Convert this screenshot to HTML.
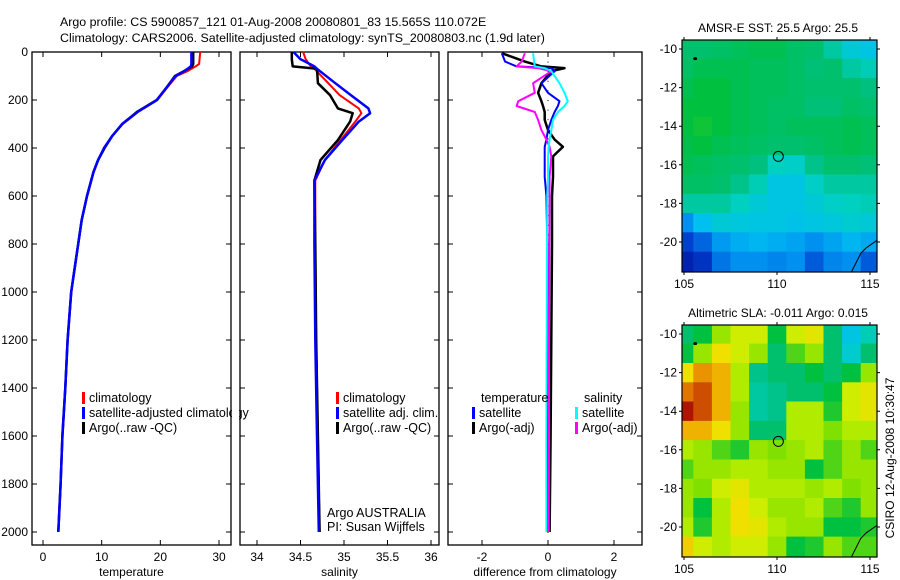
<!DOCTYPE html>
<html><head><meta charset="utf-8"><style>
html,body{margin:0;padding:0;background:#fff;}
svg{display:block;font-family:"Liberation Sans",sans-serif;}
</style></head><body>
<svg id="fig" width="900" height="580" viewBox="0 0 900 580" xmlns="http://www.w3.org/2000/svg">
<text x="60" y="26" font-size="12.4">Argo profile: CS 5900857_121 01-Aug-2008 20080801_83 15.565S 110.072E</text>
<text x="60" y="42" font-size="12.4">Climatology: CARS2006. Satellite-adjusted climatology: synTS_20080803.nc (1.9d later)</text>
<g id="plots"></g>
</svg>
<script>
// ---------- data ----------
const depthTicks=[0,200,400,600,800,1000,1200,1400,1600,1800,2000];
const tempTicks=[0,10,20,30];
const salTicks=[34,34.5,35,35.5,36];
const diffTicks=[-2,0,2];
const latTicks=[-10,-12,-14,-16,-18,-20];
const lonTicks=[105,110,115];

const tDepth=[0,50,60,80,100,150,200,250,300,350,400,450,500,600,700,800,1000,1200,1400,1600,1800,2000];
const tArgo=[25.6,25.6,25.4,24,22.5,21,19.4,16,13.5,11.8,10.5,9.4,8.6,7.5,6.6,6.0,4.8,4.2,3.8,3.3,3.0,2.6];
const tClim=[26.8,26.6,26.0,24.6,22.8,21.1,19.5,16.2,13.6,11.8,10.4,9.4,8.6,7.5,6.6,6.0,4.8,4.2,3.8,3.3,3.0,2.6];
const tSat=[25.3,25.3,25.2,24.1,22.6,21.0,19.4,16.1,13.5,11.8,10.4,9.4,8.6,7.5,6.6,6.0,4.8,4.2,3.8,3.3,3.0,2.6];

const sDepth=[0,30,60,70,130,180,235,255,290,367,450,535,800,1200,1600,2000];
const sArgo=[34.40,34.40,34.41,34.69,34.70,34.84,34.93,35.10,35.07,34.93,34.73,34.66,34.67,34.68,34.70,34.72];
const sClim=[34.53,34.56,34.62,34.66,34.82,34.95,35.17,35.20,35.13,34.96,34.78,34.67,34.67,34.68,34.70,34.72];
const sSat=[34.42,34.50,34.66,34.69,34.90,35.08,35.28,35.30,35.17,34.98,34.78,34.66,34.66,34.67,34.69,34.71];

const dDepth=[5,40,60,67,80,130,170,205,225,250,283,325,365,395,435,520,600,800,1200,1600,2000];
const dTempArgo=[-1.4,-0.7,-0.2,0.5,0.1,-0.2,-0.3,-0.2,-0.15,-0.1,-0.1,0,0.2,0.45,0.15,0.15,0.12,0.12,0.1,0.08,0.05];
const dTempSat=[-1.4,-1.3,-0.95,0.1,0.2,-0.2,0,0.35,0.3,0.2,0.1,0,-0.05,-0.1,-0.1,-0.1,-0.05,-0.02,0,0,0];
const dSalArgo=[-0.7,-0.8,-0.95,-0.3,0.1,-0.45,-0.4,-0.9,-0.95,-0.4,-0.3,-0.2,-0.05,0.05,0.1,0.05,0.05,0.04,0.03,0.03,0.02];
const dSalSat=[-0.45,-0.42,-0.4,-0.1,0.1,0.35,0.5,0.6,0.5,0.3,0.15,0.1,0.05,0.02,0,0,-0.02,-0.03,-0.04,-0.05,-0.05];

const gridLon=[105,106,107,108,109,110,111,112,113,114,115];
const gridLat=[-10,-11,-12,-13,-14,-15,-16,-17,-18,-19,-20,-21];
const sstGrid=[
[0.55,0.55,0.56,0.57,0.58,0.58,0.56,0.55,0.5,0.44,0.42],
[0.56,0.58,0.58,0.58,0.57,0.57,0.56,0.54,0.55,0.5,0.48],
[0.58,0.6,0.6,0.58,0.57,0.57,0.56,0.55,0.55,0.55,0.53],
[0.6,0.6,0.6,0.58,0.57,0.56,0.56,0.54,0.54,0.56,0.55],
[0.6,0.61,0.6,0.58,0.57,0.56,0.57,0.57,0.57,0.58,0.57],
[0.59,0.6,0.58,0.57,0.56,0.55,0.55,0.56,0.57,0.58,0.57],
[0.58,0.57,0.56,0.55,0.53,0.47,0.46,0.52,0.55,0.55,0.54],
[0.56,0.56,0.55,0.52,0.48,0.42,0.42,0.46,0.5,0.5,0.5],
[0.5,0.5,0.5,0.47,0.44,0.42,0.42,0.44,0.46,0.47,0.48],
[0.3,0.4,0.44,0.43,0.42,0.42,0.41,0.42,0.43,0.45,0.44],
[0.15,0.22,0.32,0.36,0.38,0.36,0.34,0.3,0.34,0.38,0.35],
[0.08,0.12,0.25,0.3,0.3,0.28,0.3,0.2,0.28,0.3,0.2]];
const slaGrid=[
[0.55,0.6,0.7,0.75,0.75,0.6,0.75,0.78,0.55,0.42,0.48],
[0.6,0.7,0.8,0.75,0.7,0.55,0.65,0.7,0.55,0.45,0.55],
[0.8,0.88,0.85,0.72,0.52,0.55,0.55,0.6,0.55,0.6,0.7],
[0.9,0.93,0.85,0.72,0.5,0.52,0.55,0.55,0.6,0.75,0.78],
[0.98,0.93,0.85,0.7,0.5,0.52,0.72,0.72,0.62,0.75,0.78],
[0.85,0.85,0.8,0.7,0.55,0.55,0.72,0.72,0.68,0.72,0.72],
[0.72,0.7,0.65,0.62,0.7,0.68,0.7,0.72,0.65,0.7,0.65],
[0.65,0.7,0.7,0.72,0.72,0.7,0.7,0.6,0.65,0.7,0.7],
[0.7,0.68,0.75,0.78,0.72,0.72,0.72,0.7,0.72,0.68,0.7],
[0.7,0.6,0.72,0.8,0.75,0.7,0.7,0.72,0.65,0.62,0.7],
[0.72,0.62,0.72,0.8,0.78,0.72,0.7,0.7,0.6,0.6,0.62],
[0.82,0.75,0.72,0.75,0.75,0.7,0.6,0.62,0.7,0.65,0.65]];
const argoLon=110.072, argoLat=-15.565;

// ---------- helpers ----------
const NS="http://www.w3.org/2000/svg";
const root=document.getElementById('plots');
function mk(tag,attrs,parent){const e=document.createElementNS(NS,tag);for(const k in attrs)e.setAttribute(k,attrs[k]);(parent||root).appendChild(e);return e;}
function lin(d0,d1,r0,r1){return v=>r0+(v-d0)*(r1-r0)/(d1-d0);}
const yDepth=lin(0,2000,52,532);
const pTop=52,pBot=545;

function panel(name,x0,x1,xs,ticks,fmt,label,leftLabels){
  const r=mk('rect',{x:x0,y:pTop,width:x1-x0,height:pBot-pTop,fill:'none',stroke:'#000','stroke-width':1.3});
  
  
  depthTicks.forEach(d=>{
    const y=yDepth(d);
    const t=mk('path',{d:`M${x0},${y}h5M${x1},${y}h-5`,stroke:'#000','stroke-width':1});
    
    
    if(leftLabels){const l=mk('text',{x:x0-4,y:y+4,'font-size':12,'text-anchor':'end'});l.textContent=d;
      
      }
  });
  ticks.forEach(v=>{
    const x=xs(v);
    const t=mk('path',{d:`M${x},${pTop}v5M${x},${pBot}v-5`,stroke:'#000','stroke-width':1});
    
    
    const l=mk('text',{x:x,y:pBot+16,'font-size':12,'text-anchor':'middle'});l.textContent=fmt(v);
    
    
  });
  const lb=mk('text',{x:(x0+x1)/2,y:576,'font-size':12,'text-anchor':'middle'});lb.textContent=label;
  
  
}
function line(name,depths,vals,xs,color,w){
  const pts=depths.map((d,i)=>xs(vals[i]).toFixed(1)+','+yDepth(d).toFixed(1)).join(' ');
  const p=mk('polyline',{points:pts,fill:'none',stroke:color,'stroke-width':w||2,'stroke-linejoin':'round'});
  
  
}
function legend(name,x,y,items){
  items.forEach((it,i)=>{
    const yy=y+i*15;
    const m=mk('rect',{x:x,y:yy-10,width:3,height:12,fill:it[1]});
    
    
    const t=mk('text',{x:x+7,y:yy,'font-size':12.5});t.textContent=it[0];
    
    
  });
}
function txt(name,x,y,s,attrs){const t=mk('text',Object.assign({x:x,y:y,'font-size':12.5},attrs||{}));t.textContent=s;
  
  return t;}

// ---------- temperature ----------
const xT=lin(0,30,43,219);
panel('temperature-panel',32,231,xT,tempTicks,v=>v,'temperature',true);
line('temp-climatology',tDepth,tClim,xT,'#f00');
line('temp-argo',tDepth,tArgo,xT,'#000',2.5);
line('temp-satellite',tDepth,tSat,xT,'#00f',2.5);
legend('temp-legend',82,402,[['climatology','#f00'],['satellite-adjusted climatology','#00f'],['Argo(..raw -QC)','#000']]);
mk('rect',{x:232,y:380,width:7,height:50,fill:'#fff'});

// ---------- salinity ----------
const xS=lin(34,36,257,431);
panel('salinity-panel',240,439,xS,salTicks,v=>v,'salinity',false);
line('sal-climatology',sDepth,sClim,xS,'#f00');
line('sal-argo',sDepth,sArgo,xS,'#000',2.5);
line('sal-satellite',sDepth,sSat,xS,'#00f',2.5);
legend('sal-legend',336,402,[['climatology','#f00'],['satellite adj. clim.','#00f'],['Argo(..raw -QC)','#000']]);
txt('argo-australia-credit',327,517,'Argo AUSTRALIA');
txt('pi-credit',327,531,'PI: Susan Wijffels');

// ---------- difference ----------
const xD=lin(-2,2,482,614);
panel('difference-panel',448,642,xD,diffTicks,v=>v,'difference from climatology',false);
for(let d=0;d<=2000;d+=40){mk('rect',{x:xD(0)-0.5,y:yDepth(d),width:1,height:1,fill:'#000'});}
line('diff-temp-argo',dDepth,dTempArgo,xD,'#000',2.5);
line('diff-temp-sat',dDepth,dTempSat,xD,'#00f',2);
line('diff-sal-argo',dDepth,dSalArgo,xD,'#f0f',2);
line('diff-sal-sat',dDepth,dSalSat,xD,'#0ff',2);
txt('diff-legend-temperature-header',481,402,'temperature');
txt('diff-legend-salinity-header',584,402,'salinity');
legend('diff-legend-temp',472,417,[['satellite','#00f'],['Argo(-adj)','#000']]);
legend('diff-legend-sal',575,417,[['satellite','#0ff'],['Argo(-adj)','#f0f']]);

// ---------- maps ----------
const stops=[[0,[0,0,140]],[0.15,[0,64,208]],[0.3,[0,144,240]],[0.4,[0,192,240]],[0.47,[0,208,192]],[0.53,[0,192,128]],[0.6,[0,192,64]],[0.68,[128,224,0]],[0.74,[200,240,0]],[0.8,[240,224,0]],[0.87,[240,160,0]],[0.94,[200,64,0]],[1,[160,0,0]]];
function cmap(v){v=Math.max(0,Math.min(1,v));for(let i=1;i<stops.length;i++){if(v<=stops[i][0]){const a=stops[i-1],b=stops[i],f=(v-a[0])/(b[0]-a[0]);return 'rgb('+a[1].map((c,k)=>Math.round(c+(b[1][k]-c)*f)).join(',')+')';}}return 'rgb(160,0,0)';}

function map(name,y0,title,grid){
  const x0=682,x1=877,y1=y0+232;
  const xl=lin(105,115,684,870), yl=lin(-10,-20,y0+9,y0+202);
  const cw=xl(106)-xl(105), ch=yl(-11)-yl(-10);
  const clip=mk('clipPath',{id:name+'-clip'});mk('rect',{x:x0,y:y0,width:x1-x0,height:y1-y0},clip);
  const g=mk('g',{});
  
  
  g.setAttribute('clip-path','url(#'+name+'-clip)');
  gridLat.forEach((la,i)=>gridLon.forEach((lo,j)=>{
    const c=mk('rect',{x:(xl(lo)-cw/2).toFixed(1),y:(yl(la)-ch/2).toFixed(1),width:(cw+0.6).toFixed(1),height:(ch+0.6).toFixed(1),fill:cmap(grid[i][j])},g);
    
    
  }));
  const coast=mk('polyline',{points:`${xl(114)},${y1} ${xl(114.5)},${yl(-20.6)} ${xl(114.8)},${yl(-20.3)} ${xl(115.4)},${yl(-19.9)}`,fill:'none',stroke:'#000','stroke-width':1});
  
  
  mk('ellipse',{cx:xl(105.6),cy:yl(-10.5),rx:2,ry:1.5,fill:'#000'});
  const fr=mk('rect',{x:x0,y:y0,width:x1-x0,height:y1-y0,fill:'none',stroke:'#000','stroke-width':1.2});
  
  
  const circ=mk('circle',{cx:xl(argoLon),cy:yl(argoLat),r:5,fill:'none',stroke:'#000','stroke-width':1});
  
  
  latTicks.forEach(la=>{const y=yl(la);mk('path',{d:`M${x0},${y}h-3M${x1},${y}h3`,stroke:'#000'});
    txt(name+'-lat-label',x0-5,y+4,la,{'text-anchor':'end','font-size':12});});
  lonTicks.forEach(lo=>{const x=xl(lo);mk('path',{d:`M${x},${y0}v-3M${x},${y1}v3`,stroke:'#000'});
    txt(name+'-lon-label',x,y1+16,lo,{'text-anchor':'middle','font-size':12});});
  txt(name+'-title',778,y0-8,title,{'text-anchor':'middle','font-size':12});
}
map('sst-map',40,'AMSR-E SST: 25.5 Argo: 25.5',sstGrid);
map('sla-map',325,'Altimetric SLA: -0.011 Argo: 0.015',slaGrid);
txt('timestamp',894,458,'CSIRO 12-Aug-2008 10:30:47',{'text-anchor':'middle','font-size':12,transform:'rotate(-90 894 458)'});
</script>
</body></html>
